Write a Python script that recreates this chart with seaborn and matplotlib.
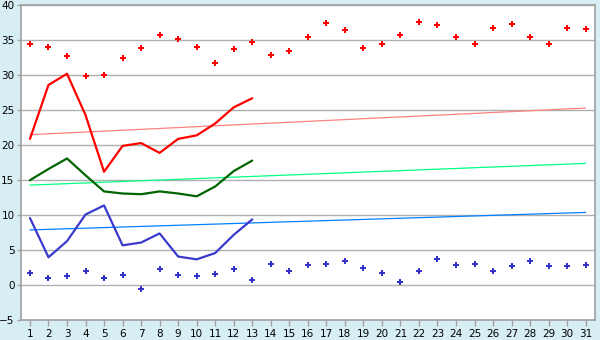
import matplotlib
matplotlib.use("Agg")
import matplotlib.pyplot as plt
import seaborn as sns

days = list(range(1, 32))
line_days = list(range(1, 14))
high_pts = [34.4, 34.0, 32.7, 29.9, 30.0, 32.4, 33.9, 35.7, 35.1, 34.0,
            31.7, 33.7, 34.7, 32.9, 33.4, 35.4, 37.4, 36.4, 33.9, 34.4,
            35.7, 37.6, 37.1, 35.4, 34.4, 36.7, 37.3, 35.4, 34.4, 36.7, 36.6]
low_pts = [1.7, 1.1, 1.3, 2.0, 1.1, 1.4, -0.6, 2.3, 1.4, 1.3,
           1.6, 2.3, 0.7, 3.1, 2.1, 2.9, 3.0, 3.5, 2.4, 1.7,
           0.4, 2.1, 3.7, 2.9, 3.0, 2.0, 2.7, 3.4, 2.7, 2.7, 2.9]
red_line = [20.9, 28.6, 30.2, 24.3, 16.2, 19.9, 20.3, 18.9, 20.9, 21.4, 23.1, 25.4, 26.7]
green_line = [15.0, 16.6, 18.1, 15.7, 13.4, 13.1, 13.0, 13.4, 13.1, 12.7, 14.1, 16.3, 17.8]
blue_line = [9.6, 4.0, 6.3, 10.1, 11.4, 5.7, 6.1, 7.4, 4.1, 3.7, 4.6, 7.2, 9.4]
trend_days = [1, 31]
red_trend = [21.5, 25.3]
green_trend = [14.3, 17.4]
blue_trend = [7.9, 10.4]
y_ticks = [-5, 0, 5, 10, 15, 20, 25, 30, 35, 40]

sns.set_style("white")
plt.rcParams['font.family'] = ['DejaVu Sans']

bg = "#D8EEF5"
fig = plt.figure(figsize=(6, 3.4), dpi=100, facecolor=bg)
ax = fig.add_axes([0.0345, 0.058, 0.957, 0.927])
ax.set_facecolor("white")

for y in y_ticks:
    ax.axhline(y, color="#B0B0B0", lw=1.0, zorder=0)

sns.lineplot(x=trend_days, y=red_trend, ax=ax, color="#FF8080", lw=0.9)
sns.lineplot(x=trend_days, y=green_trend, ax=ax, color="#00FF80", lw=0.9)
sns.lineplot(x=trend_days, y=blue_trend, ax=ax, color="#0080FF", lw=0.9)

sns.lineplot(x=line_days, y=red_line, ax=ax, color="#FF0000", lw=1.6)
sns.lineplot(x=line_days, y=green_line, ax=ax, color="#006400", lw=1.6)
sns.lineplot(x=line_days, y=blue_line, ax=ax, color="#3A3ACC", lw=1.6)

sns.scatterplot(x=days, y=high_pts, ax=ax, color="#FF0000", marker="P", s=22, linewidth=0)
sns.scatterplot(x=days, y=low_pts, ax=ax, color="#3333CC", marker="P", s=22, linewidth=0)

ax.set_xlim(0.5, 31.5)
ax.set_ylim(-5, 40)
ax.set_xticks(days)
ax.set_xticklabels([str(d) for d in days])
ax.set_yticks(y_ticks)
ax.set_yticklabels([str(v).replace("-", "\u2212") for v in y_ticks])
ax.tick_params(axis="both", direction="out", length=3, width=1, color="#A0A0A0",
               labelsize=7.5, labelcolor="#000000", pad=1.5, bottom=True, left=True)
ax.tick_params(axis="x", length=4, pad=2)
for s in ax.spines.values():
    s.set_color("#A0A0A0")
    s.set_linewidth(1.2)

fig.savefig("out.png", dpi=100, facecolor=bg)
